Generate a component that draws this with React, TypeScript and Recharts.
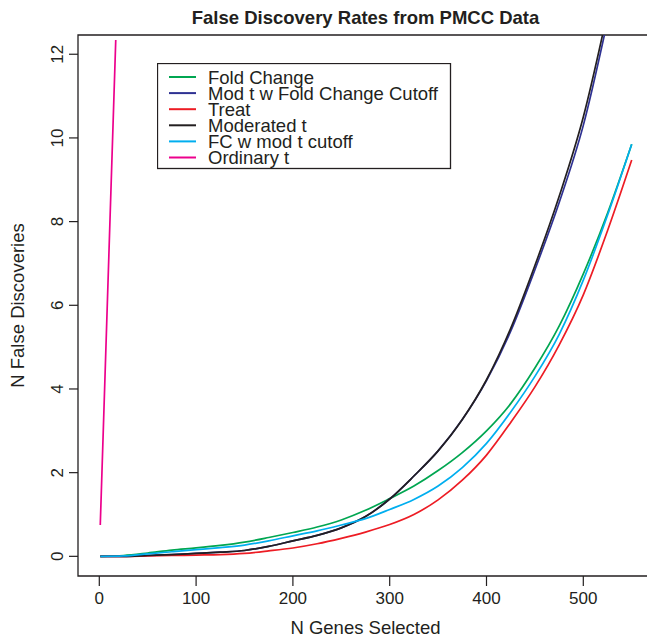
import React from 'react';
import { LineChart, Line, XAxis, YAxis, Legend, ReferenceArea, Label } from 'recharts';

// genes selected (x) for the long curves
const genes = [1, 25, 50, 75, 100, 125, 150, 175, 200, 225, 250, 275, 300, 325, 350, 375, 400, 425, 450, 475, 500, 525, 550];

// false discoveries
const foldChange = [0, 0.02, 0.08, 0.15, 0.2, 0.26, 0.34, 0.45, 0.57, 0.7, 0.87, 1.1, 1.38, 1.68, 2.05, 2.48, 3.0, 3.65, 4.5, 5.5, 6.75, 8.2, 9.85];
const modTFcCutoff = [0, 0, 0.02, 0.04, 0.07, 0.1, 0.14, 0.24, 0.37, 0.5, 0.68, 0.95, 1.37, 1.92, 2.52, 3.27, 4.2, 5.38, 6.85, 8.45, 10.3, 12.8];
const treat = [0, 0, 0.01, 0.02, 0.03, 0.04, 0.07, 0.13, 0.2, 0.3, 0.43, 0.58, 0.76, 1.0, 1.35, 1.82, 2.42, 3.2, 4.05, 5.05, 6.25, 7.78, 9.47];
const moderatedT = [0, 0, 0.02, 0.04, 0.07, 0.1, 0.14, 0.24, 0.37, 0.5, 0.68, 0.95, 1.37, 1.92, 2.52, 3.27, 4.22, 5.45, 6.95, 8.6, 10.5, 13.0];
const fcModTCutoff = [0, 0.01, 0.06, 0.11, 0.16, 0.21, 0.27, 0.37, 0.49, 0.61, 0.75, 0.9, 1.12, 1.36, 1.68, 2.12, 2.7, 3.45, 4.3, 5.3, 6.6, 8.15, 9.85];

// ordinary t shoots off the top almost immediately
const ordinaryGenes = [1, 9, 17];
const ordinaryT = [0.75, 6.55, 12.34];

const xTicks = [0, 100, 200, 300, 400, 500];
const yTicks = [0, 2, 4, 6, 8, 10, 12];

const ink = '#231f20';
const font = '"Liberation Sans", Arial, Helvetica, sans-serif';

const toRows = (xs: number[], ys: number[]) => ys.map((v, i) => ({ n: xs[i], fd: v }));

const series = [
  { name: 'Fold Change', color: '#00a651', data: toRows(genes, foldChange) },
  { name: 'Mod t w Fold Change Cutoff', color: '#2e3192', data: toRows(genes, modTFcCutoff) },
  { name: 'Treat', color: '#ed1c24', data: toRows(genes, treat) },
  { name: 'Moderated t', color: ink, data: toRows(genes, moderatedT) },
  { name: 'FC w mod t cutoff', color: '#00aeef', data: toRows(genes, fcModTCutoff) },
  { name: 'Ordinary t', color: '#ec008c', data: toRows(ordinaryGenes, ordinaryT) },
];

const XTick = ({ x, y, payload }: any) => (
  <text x={x} y={y + 16} textAnchor="middle" fontSize={17} fill={ink} fontFamily={font}>
    {payload.value}
  </text>
);

const YTick = ({ x, y, payload }: any) => (
  <text transform={`translate(${x - 4},${y}) rotate(-90)`} textAnchor="middle" fontSize={17} fill={ink} fontFamily={font}>
    {payload.value}
  </text>
);

const LegendBox = () => (
  <svg width={295} height={107} style={{ display: 'block' }}>
    <rect x={0.5} y={0.5} width={293} height={105} fill="#fff" stroke={ink} strokeWidth={1.3} />
    {series.map((s, i) => {
      const cy = 14 + i * 16.1;
      return (
        <g key={s.name}>
          <line x1={12} x2={39} y1={cy} y2={cy} stroke={s.color} strokeWidth={2} />
          <text x={51} y={cy + 6.5} fontSize={18.5} fill={ink} fontFamily={font}>{s.name}</text>
        </g>
      );
    })}
  </svg>
);

const App: React.FC = () => (
  <div style={{ position: 'absolute', left: 0, top: 0, width: 647, height: 639, overflow: 'hidden', background: '#fff' }}>
    <LineChart width={660} height={639} margin={{ top: 35, right: 7, bottom: 0, left: 0 }}>
      <XAxis
        type="number" dataKey="n" domain={[-22, 572]} ticks={xTicks} allowDataOverflow
        axisLine={false} tickSize={10} tickLine={{ stroke: ink, strokeWidth: 1.2 }} tick={<XTick />} height={63}
      >
        <Label content={({ viewBox }: any) => (
          <text x={viewBox.x + viewBox.width / 2} y={634} textAnchor="middle" fontSize={18.5} fill={ink} fontFamily={font}>
            N Genes Selected
          </text>
        )} />
      </XAxis>
      <YAxis
        type="number" domain={[-0.47, 12.46]} ticks={yTicks} allowDataOverflow
        axisLine={false} tickSize={9} tickLine={{ stroke: ink, strokeWidth: 1.2 }} tick={<YTick />} width={78}
      >
        <Label content={({ viewBox }: any) => (
          <text transform={`translate(24,${viewBox.y + viewBox.height / 2}) rotate(-90)`} textAnchor="middle" fontSize={18.5} fill={ink} fontFamily={font}>
            N False Discoveries
          </text>
        )} />
      </YAxis>
      <ReferenceArea x1={-22} x2={572} y1={-0.47} y2={12.46} fill="none" stroke={ink} strokeWidth={1.3} strokeOpacity={1}>
        <Label content={({ viewBox }: any) => (
          <text x={viewBox.x + viewBox.width / 2} y={24} textAnchor="middle" fontSize={18.5} fontWeight="bold" fill={ink} fontFamily={font}>
            False Discovery Rates from PMCC Data
          </text>
        )} />
      </ReferenceArea>
      {series.map((s) => (
        <Line
          key={s.name} data={s.data} dataKey="fd" name={s.name} type="monotone"
          stroke={s.color} strokeWidth={1.7} dot={false} activeDot={false} isAnimationActive={false}
        />
      ))}
      <Legend
        layout="vertical" align="center" verticalAlign="middle"
        wrapperStyle={{ left: 157, top: 63, width: 295, height: 107 }}
        content={() => <LegendBox />}
      />
    </LineChart>
  </div>
);

export default App;
